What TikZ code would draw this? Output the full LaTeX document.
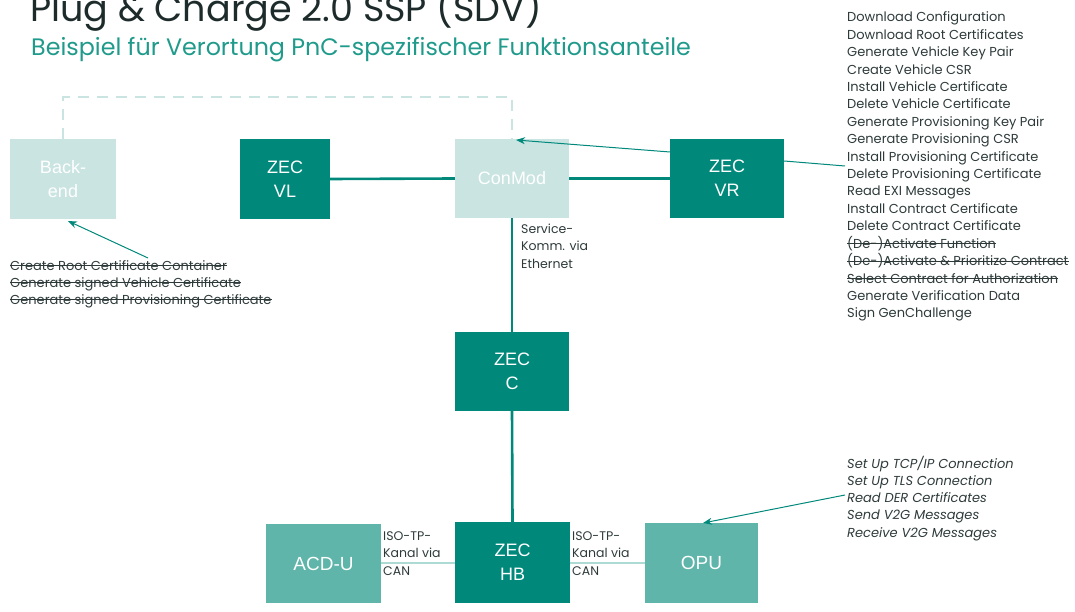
\documentclass[tikz,border=0pt]{standalone}
\usepackage{fontspec}
\setmainfont{Poppins}
\newfontfamily\boxfont{Liberation Sans}
\usetikzlibrary{arrows.meta}
\definecolor{tealdark}{HTML}{00897B}
\definecolor{teallight}{HTML}{C9E4E1}
\definecolor{tealmid}{HTML}{5FB5AA}
\definecolor{tealline}{HTML}{AEDAD4}
\definecolor{inktext}{HTML}{2E3A3A}
\definecolor{titleink}{HTML}{1D2B2B}
\definecolor{subink}{HTML}{1F9A8B}
\begin{document}
\begin{tikzpicture}[x=1pt,y=-1pt,
  box/.style={draw=none, inner sep=0pt, align=center, text=white,
    font=\boxfont\fontsize{18}{24}\selectfont},
  darkbox/.style={box, fill=tealdark},
  lightbox/.style={box, fill=teallight},
  midbox/.style={box, fill=tealmid, font=\boxfont\fontsize{19}{24}\selectfont},
  bus/.style={draw=tealdark, line width=2.6pt},
  canlink/.style={draw=tealline, line width=2pt},
  cloudlink/.style={draw=teallight, line width=2.2pt, dash pattern=on 11pt off 8pt},
  pointer/.style={draw=tealdark, line width=1pt, -{Stealth[length=9pt,width=7pt]}},
  leader/.style={draw=tealdark, line width=1pt},
  strikeline/.style={draw=inktext, line width=0.9pt},
  listtext/.style={anchor=base west, inner sep=0pt, text=inktext,
    font=\fontsize{13}{17}\selectfont},
  linklabel/.style={anchor=base west, inner sep=0pt, text=inktext, align=left,
    font=\fontsize{12.5}{17.4}\selectfont}
]
\useasboundingbox (0,0) rectangle (1075,612);

% headings
\node[anchor=base west, inner sep=0pt, text=titleink, font=\fontsize{36.5}{40}\selectfont]
  (title) at (30,22) {Plug \& Charge 2.0 SSP (SDV)};
\node[anchor=base west, inner sep=0pt, text=subink, font=\fontsize{23.8}{28}\selectfont]
  (subtitle) at (31,56) {Beispiel für Verortung PnC-spezifischer Funktionsanteile};

% control units
\node[lightbox, minimum width=106pt, minimum height=80pt] (backend) at (63,179) {Back-\\end};
\node[darkbox, minimum width=90pt, minimum height=80pt] (zecvl) at (285,179) {ZEC\\VL};
\node[lightbox, minimum width=114pt, minimum height=79pt] (conmod) at (512,178.5) {ConMod};
\node[darkbox, minimum width=114pt, minimum height=79pt] (zecvr) at (727,178.5) {ZEC\\VR};
\node[darkbox, minimum width=114pt, minimum height=79pt] (zecc) at (512,371.5) {ZEC\\C};
\node[darkbox, minimum width=115pt, minimum height=81pt] (zechb) at (512.5,562.5) {ZEC\\HB};
\node[midbox, minimum width=115pt, minimum height=79pt] (acdu) at (323.5,563.5) {ACD-U};
\node[midbox, minimum width=113pt, minimum height=80pt] (opu) at (701.5,563) {OPU};

% vehicle network
\draw[bus] (zecvl.east) -- (conmod.west);
\draw[bus] (conmod.east) -- (zecvr.west);
\draw[bus] (conmod.south) -- (zecc.north);
\draw[bus] (zecc.south) -- (zechb.north);
\draw[canlink] (acdu.east |- 0,563) -- (zechb.west |- 0,563);
\draw[canlink] (zechb.east |- 0,563) -- (opu.west |- 0,563);

% backend connection
\coordinate (cloudtop) at (63,97);
\draw[cloudlink] (backend.north) -- (cloudtop) -| (conmod.north);

% function lists
\foreach \t [count=\i] in {
  Download Configuration,
  Download Root Certificates,
  Generate Vehicle Key Pair,
  Create Vehicle CSR,
  Install Vehicle Certificate,
  Delete Vehicle Certificate,
  Generate Provisioning Key Pair,
  Generate Provisioning CSR,
  Install Provisioning Certificate,
  Delete Provisioning Certificate,
  Read EXI Messages,
  Install Contract Certificate,
  Delete Contract Certificate,
  (De-)Activate Function,
  (De-)Activate \& Prioritize Contract,
  Select Contract for Authorization,
  Generate Verification Data,
  Sign GenChallenge}
  \node[listtext] (vrfn\i) at (847,{22+17.4*(\i-1)}) {\t};
\foreach \i in {14,15,16}
  \draw[strikeline] ([yshift=4.3pt]vrfn\i.base west) -- ([yshift=4.3pt]vrfn\i.base east);

\foreach \t [count=\i] in {
  Create Root Certificate Container,
  Generate signed Vehicle Certificate,
  Generate signed Provisioning Certificate}
  \node[listtext] (befn\i) at (10,{270+17*(\i-1)}) {\t};
\foreach \i in {1,2,3}
  \draw[strikeline] ([yshift=4.3pt]befn\i.base west) -- ([yshift=4.3pt]befn\i.base east);

\foreach \t [count=\i] in {
  Set Up TCP/IP Connection,
  Set Up TLS Connection,
  Read DER Certificates,
  Send V2G Messages,
  Receive V2G Messages}
  \node[listtext, font=\fontsize{13}{17}\selectfont\itshape] (opufn\i) at (847,{468+17.3*(\i-1)}) {\t};

% link labels
\node[linklabel] (ethlabel) at (521,268) {Service-\\Komm. via\\Ethernet};
\node[linklabel] (canleft) at (383,575) {ISO-TP-\\Kanal via\\CAN};
\node[linklabel] (canright) at (572,575) {ISO-TP-\\Kanal via\\CAN};

% assignments of functions to units
\coordinate (vrout) at (670,152);
\coordinate (conmodin) at (516,140);
\coordinate (vrlistin) at (845,166);
\coordinate (beout) at (148,258);
\coordinate (bein) at (68,221);
\coordinate (opuout) at (845,495);
\coordinate (opuin) at (703,523);
\draw[pointer] (vrout) -- (conmodin);
\draw[leader] (zecvr.east |- 0,161) -- (vrlistin);
\draw[pointer] (beout) -- (bein);
\draw[pointer] (opuout) -- (opuin);
\end{tikzpicture}
\end{document}
